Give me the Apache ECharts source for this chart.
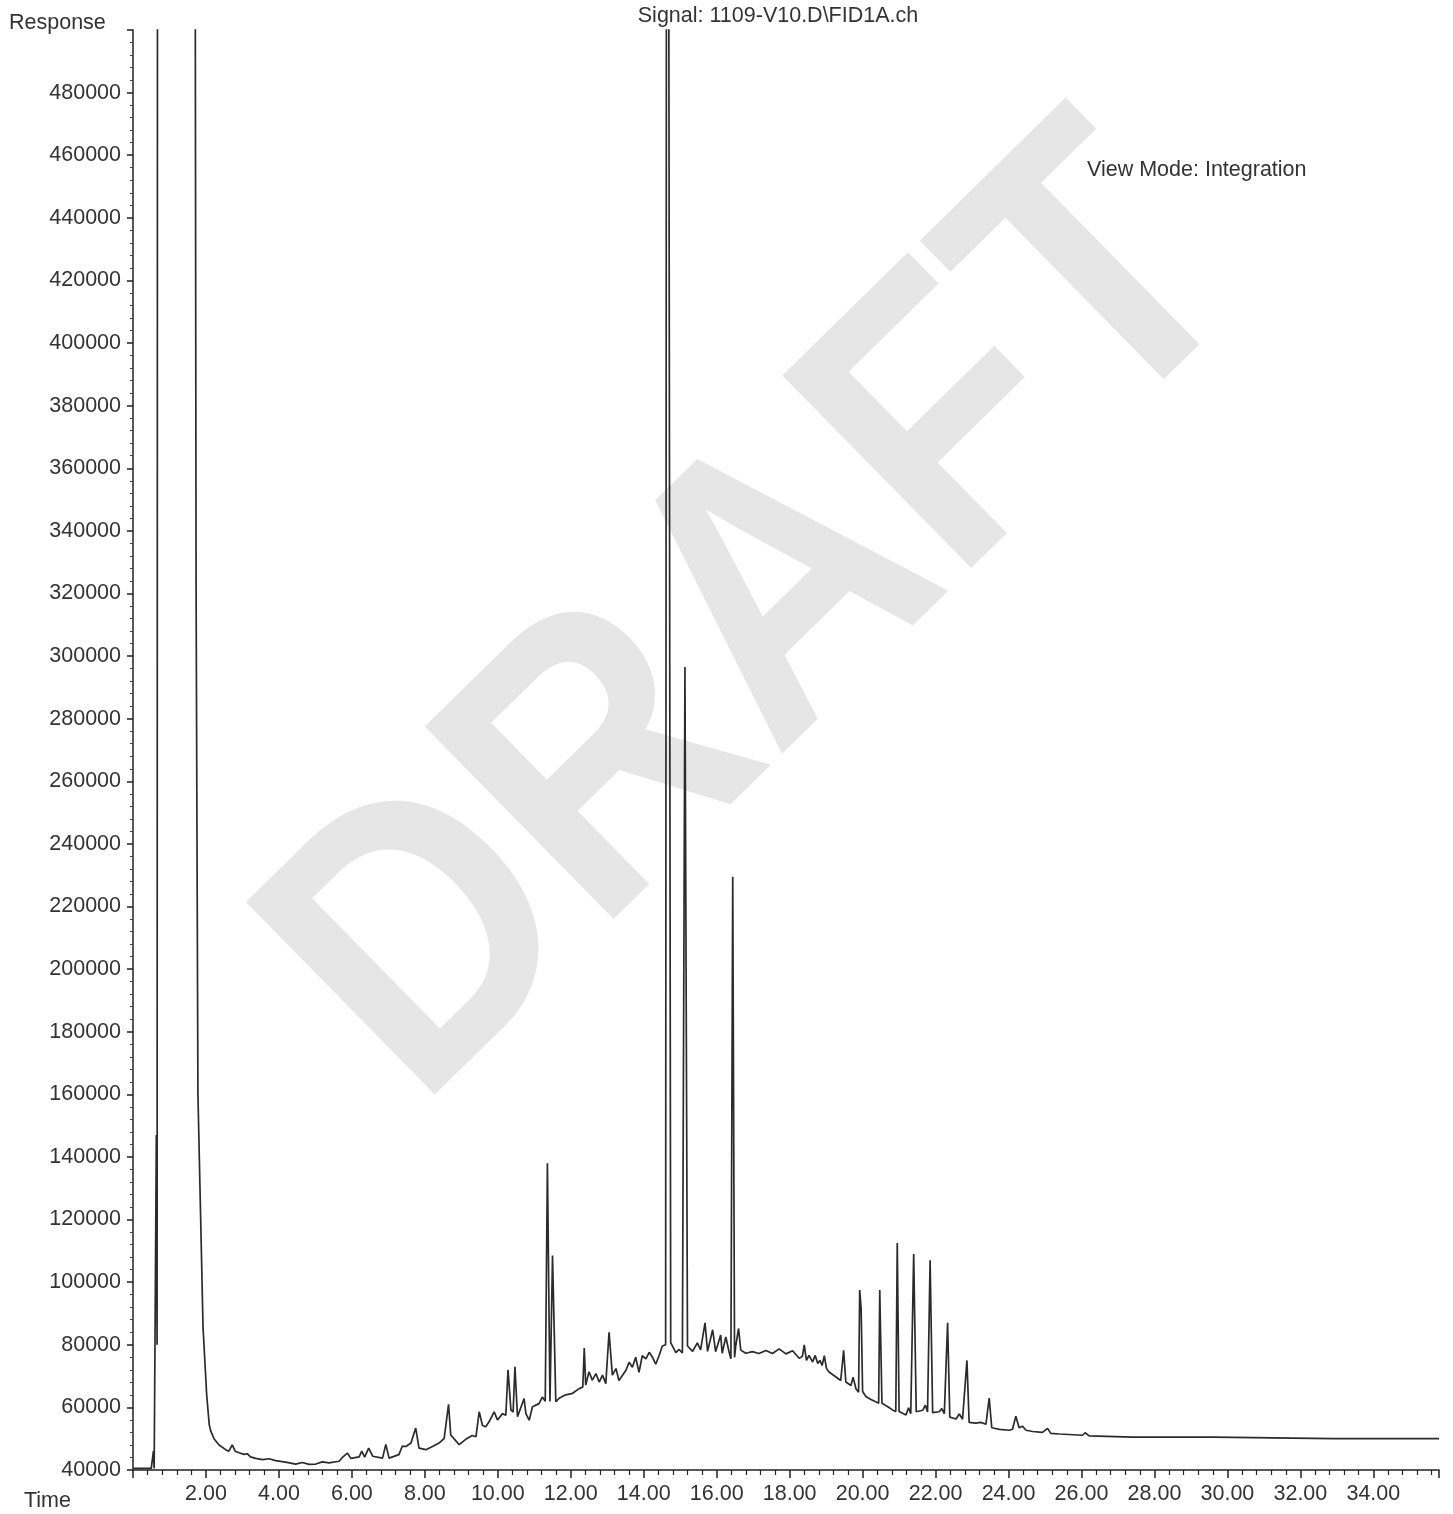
<!DOCTYPE html>
<html>
<head>
<meta charset="utf-8">
<script src="https://cdn.jsdelivr.net/npm/echarts@6/dist/echarts.min.js"></script>
<style>
  html, body { margin: 0; padding: 0; background: #ffffff; }
  #chart { width: 1453px; height: 1514px; }
</style>
</head>
<body>
<div id="chart"></div>
<script>
// ---- DATA (time in minutes, response in counts) ----
const titleText = 'Signal: 1109-V10.D\\FID1A.ch';
const viewModeText = 'View Mode: Integration';
const yAxisName = 'Response';
const xAxisName = 'Time';

// solvent region (off-scale peaks are clipped at the top of the axis)
const solventRegion = [
  [0, 40500], [0.5, 40500], [0.54, 40500], [0.56, 46000], [0.58, 40500],
  [0.62, 40500], [0.64, 147000], [0.66, 80000], [0.68, 900000], [1.2, 1500000],
  [1.66, 900000], [1.73, 320000], [1.78, 160000], [1.92, 85500], [2.02, 64000],
  [2.09, 54500], [2.13, 52500], [2.22, 50000]
];

const earlyRegion = [
  [2.36, 48000], [2.54, 46500], [2.63, 46000], [2.72, 48000], [2.8, 46000],
  [2.91, 45500], [3.04, 45000], [3.13, 45200], [3.22, 44200], [3.36, 43700],
  [3.55, 43300], [3.73, 43600], [3.91, 43000], [4.18, 42500], [4.46, 41900],
  [4.64, 42400], [4.83, 41800], [5.01, 41900], [5.19, 42600], [5.37, 42300],
  [5.65, 42800], [5.74, 44000], [5.88, 45400], [5.97, 43700], [6.2, 44200],
  [6.27, 46000], [6.35, 44100], [6.46, 47000], [6.57, 44400], [6.84, 43800],
  [6.93, 48200], [7.02, 43800], [7.29, 44900], [7.38, 47600], [7.48, 47500],
  [7.62, 48600], [7.75, 53400], [7.84, 47000], [8.03, 46500], [8.21, 47500],
  [8.39, 48600], [8.53, 50100], [8.65, 61000], [8.71, 51200], [8.94, 48100],
  [9.12, 49800], [9.3, 51000], [9.4, 50600], [9.49, 58600], [9.58, 54200],
  [9.67, 53800], [9.76, 55400], [9.9, 58600], [9.99, 56000]
];

const middleRegion = [
  [10.13, 58000], [10.22, 57500], [10.28, 72000], [10.36, 59100], [10.42, 58500],
  [10.47, 73000], [10.54, 57000], [10.72, 62800], [10.77, 58000], [10.86, 55900],
  [10.95, 60200], [11.13, 61200], [11.22, 63300], [11.3, 62000], [11.36, 138000],
  [11.43, 61900], [11.5, 108500], [11.59, 61800], [11.68, 62900], [11.86, 64000],
  [12.05, 64500], [12.23, 66000], [12.33, 66500], [12.37, 79000], [12.41, 67100],
  [12.5, 71400], [12.59, 68700], [12.69, 70800], [12.78, 68100], [12.87, 70300],
  [12.96, 67600], [13.05, 84000], [13.14, 70300], [13.24, 72400], [13.32, 68600],
  [13.51, 71800], [13.6, 74400], [13.69, 72800], [13.78, 76000], [13.87, 71200],
  [13.96, 76500], [14.06, 75500], [14.15, 77600], [14.24, 76000], [14.33, 73800],
  [14.42, 76500], [14.51, 79600], [14.6, 80000], [14.64, 900000], [14.69, 900000],
  [14.74, 80700], [14.88, 77500], [14.97, 78500], [15.06, 77400], [15.13, 296500],
  [15.2, 79600], [15.34, 77900], [15.47, 80600], [15.56, 78400], [15.68, 87000],
  [15.75, 77900], [15.89, 84800], [15.97, 77800], [16.11, 83100], [16.15, 77300],
  [16.25, 82500], [16.34, 77700], [16.39, 75500], [16.44, 229500], [16.49, 76000],
  [16.52, 79400], [16.6, 85200], [16.66, 78300], [16.8, 77300], [16.98, 77800],
  [17.16, 77200], [17.35, 78200], [17.53, 77200], [17.71, 78700], [17.9, 77100],
  [18.08, 78100], [18.26, 75700], [18.35, 76300], [18.4, 80000], [18.46, 75000],
  [18.53, 76600], [18.63, 74500], [18.7, 76600], [18.77, 74000], [18.83, 75000],
  [18.89, 73400], [18.95, 76500], [19.01, 72400], [19.08, 71300], [19.27, 69700]
];

const lateRegion = [
  [19.4, 68600], [19.48, 78200], [19.54, 68100], [19.68, 67000], [19.74, 69600],
  [19.82, 65900], [19.89, 64800], [19.92, 97500], [19.96, 91500], [20.0, 65100],
  [20.09, 63500], [20.23, 62500], [20.44, 61300], [20.47, 97500], [20.53, 61300],
  [20.68, 60300], [20.82, 59200], [20.91, 58700], [20.95, 112500], [21.0, 58700],
  [21.19, 57600], [21.26, 59900], [21.32, 58000], [21.4, 109000], [21.47, 58600],
  [21.65, 59100], [21.72, 60700], [21.78, 58500], [21.85, 107000], [21.92, 58300],
  [22.1, 58600], [22.17, 59600], [22.24, 58000], [22.33, 87000], [22.39, 56900],
  [22.56, 56300], [22.65, 57900], [22.74, 56200], [22.78, 55800], [22.86, 75000],
  [22.92, 55200], [23.1, 55000], [23.24, 55200], [23.38, 54600], [23.47, 63000],
  [23.54, 53500], [23.75, 53000], [24.02, 52700], [24.11, 53000], [24.2, 57200],
  [24.29, 53500], [24.38, 54000], [24.48, 52700], [24.66, 52300], [24.93, 52000],
  [25.07, 53300], [25.16, 51700], [25.39, 51500], [26.03, 51100], [26.1, 51900],
  [26.21, 50900], [27.4, 50500], [29.6, 50500], [32.9, 50000], [34.7, 50000],
  [35.8, 50000]
];

const signal = solventRegion.concat(earlyRegion, middleRegion, lateRegion);

// ---- CHART ----
const chart = echarts.init(document.getElementById('chart'), null, { renderer: 'canvas' });
const FONT = '"Liberation Sans", Arial, sans-serif';
const TXT = '21.5px "Liberation Sans", Arial, sans-serif';

chart.setOption({
  animation: false,
  backgroundColor: '#ffffff',
  grid: { left: 133, top: 30, width: 1306, height: 1440, containLabel: false },
  xAxis: {
    type: 'value',
    min: 0,
    max: 35.8,
    interval: 2,
    axisLine: { show: true, onZero: false, lineStyle: { color: '#222', width: 1.5 } },
    axisTick: { show: true, length: 8, lineStyle: { color: '#222', width: 1.5 } },
    minorTick: { show: true, splitNumber: 5, length: 5, lineStyle: { color: '#222', width: 1.2 } },
    splitLine: { show: false },
    axisLabel: {
      margin: 13,
      color: '#333',
      fontSize: 21.5,
      fontFamily: FONT,
      showMinLabel: false,
      showMaxLabel: false,
      formatter: function (v) { return (v <= 0 || v > 35) ? '' : v.toFixed(2); }
    }
  },
  yAxis: {
    type: 'value',
    min: 40000,
    max: 500000,
    interval: 20000,
    axisLine: { show: true, onZero: false, lineStyle: { color: '#222', width: 1.5 } },
    axisTick: { show: true, length: 6, lineStyle: { color: '#222', width: 1.5 } },
    minorTick: { show: true, splitNumber: 5, length: 3, lineStyle: { color: '#444', width: 1 } },
    splitLine: { show: false },
    axisLabel: {
      margin: 12,
      color: '#333',
      fontSize: 21.5,
      fontFamily: FONT,
      formatter: function (v) { return v >= 500000 ? '' : String(v); }
    }
  },
  graphic: [
    {
      type: 'text', z: -10,
      x: 762, y: 622, rotation: 0.776, scaleX: 0.885, scaleY: 1,
      style: {
        text: 'DRAFT', fill: '#e6e6e6',
        font: 'bold 392px "Liberation Sans", Arial, sans-serif',
        textAlign: 'center', textVerticalAlign: 'middle'
      }
    },
    {
      type: 'text', x: 9, y: 23,
      style: { text: yAxisName, fill: '#333', font: TXT, textVerticalAlign: 'middle' }
    },
    {
      type: 'text', x: 24, y: 1501,
      style: { text: xAxisName, fill: '#333', font: TXT, textVerticalAlign: 'middle' }
    },
    {
      type: 'text', x: 778, y: 16,
      style: { text: titleText, fill: '#333', font: TXT, textAlign: 'center', textVerticalAlign: 'middle' }
    },
    {
      type: 'text', x: 1087, y: 170,
      style: { text: viewModeText, fill: '#333', font: TXT, textVerticalAlign: 'middle' }
    }
  ],
  series: [{
    type: 'line',
    data: signal,
    showSymbol: false,
    symbol: 'none',
    clip: true,
    lineStyle: { color: '#2b2b2b', width: 1.7 },
    z: 5
  }]
});
</script>
</body>
</html>
